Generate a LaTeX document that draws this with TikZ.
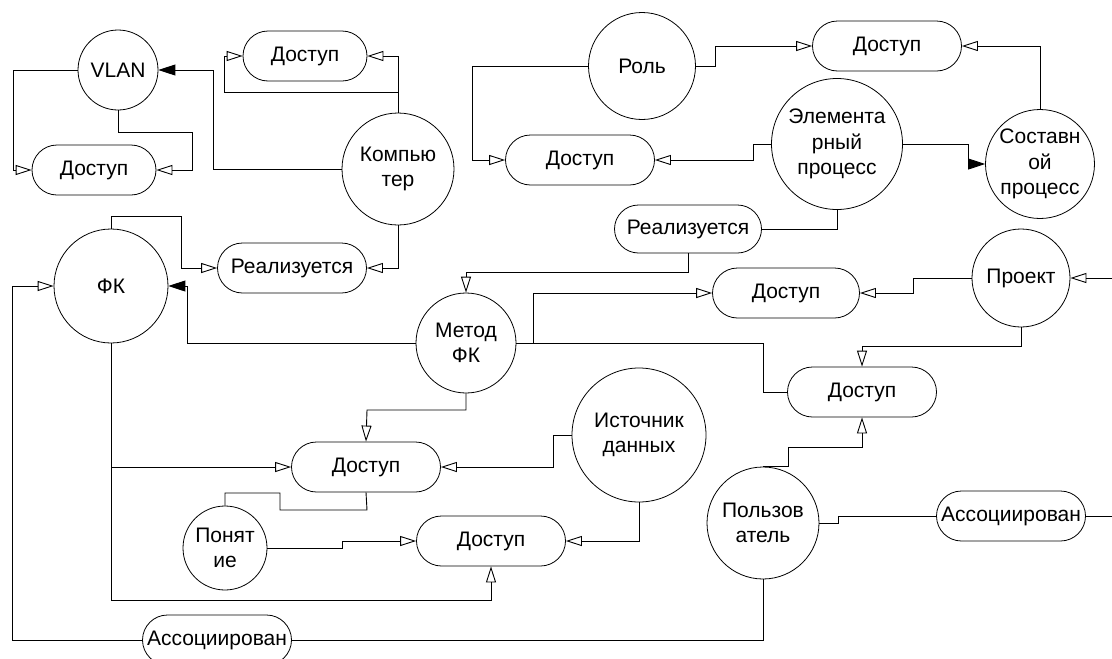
\documentclass[tikz,border=0pt]{standalone}
\usepackage{fontspec}
\setmainfont{Liberation Sans}
\usetikzlibrary{arrows.meta,shapes.misc}

\tikzset{
  ent/.style={draw, circle, inner sep=0pt, align=center, line width=0.8pt},
  acc/.style={draw, rounded rectangle, minimum width=149pt, minimum height=50pt, inner sep=0pt, line width=0.8pt},
  accs/.style={acc, minimum width=124pt},
  link/.style={line width=0.9pt},
  opn/.style={link, -{Triangle[open, length=16pt, width=10pt]}},
  fil/.style={link, -{Triangle[length=17pt, width=11pt]}},
}

\begin{document}
\begin{tikzpicture}[x=1pt, y=-1pt, every node/.style={font=\fontsize{21}{25.5}\selectfont}]
        \useasboundingbox (0,0) rectangle (1112,659);
        \fill[white] (0,0) rectangle (1112,659);
        \clip (0,0) rectangle (1112,659);

        % Entities
        \node[ent, minimum size=80pt] (vlan) at (118,70) {VLAN};
        \node[ent, minimum size=112pt] (comp) at (398,169) {Компью\\тер};
        \node[ent, minimum size=114pt] (fk) at (111,286) {ФК};
        \node[ent, minimum size=100pt] (method) at (466,343) {Метод\\ФК};
        \node[ent, minimum size=84pt] (concept) at (225,548) {Понят\\ие};
        \node[ent, minimum size=134pt] (source) at (639,435) {Источник\\данных};
        \node[ent, minimum size=107pt] (role) at (642,66) {Роль};
        \node[ent, minimum size=131pt] (elem) at (837,144) {Элемента\\рный\\процесс};
        \node[ent, minimum size=109pt] (compos) at (1040,164) {Составн\\ой\\процесс};
        \node[ent, minimum size=98pt] (proj) at (1021,278) {Проект};
        \node[ent, minimum size=112pt] (user) at (763,523) {Пользов\\атель};

        % Relations
        \node[accs] (accvl) at (94,170) {Доступ};
        \node[accs] (acccomp) at (305,56) {Доступ};
        \node[acc] (realfk) at (292,268) {Реализуется};
        \node[acc] (accmeth) at (366,467) {Доступ};
        \node[acc] (acccon) at (491,541) {Доступ};
        \node[acc] (assocL) at (217,640) {Ассоциирован};
        \node[acc] (accrole) at (580,160) {Доступ};
        \node[acc] (acccomp2) at (887,46) {Доступ};
        \node[acc, minimum width=147pt, minimum height=48pt] (realel) at (688,229) {Реализуется};
        \node[acc, minimum width=147pt] (accproj) at (786,293) {Доступ};
        \node[acc] (accuser) at (862,392) {Доступ};
        \node[acc] (assocR) at (1011,516) {Ассоциирован};
        \coordinate (edgeP) at (1112,278);
        \coordinate (edgeA) at (1112,516);

        % VLAN / Компьютер
        \draw[opn] (vlan.west) -| (13,170) -- (accvl.west);
        \draw[opn] (vlan.south) |- (192,132) |- (accvl.east);
        \draw[opn] (comp.north) |- (acccomp.east);
        \draw[opn] (comp.north) ++(0,-20) -| (224,56) -- (acccomp.west);
        \draw[fil] (comp.west) -| (213,70) -- (vlan.east);
        \draw[opn] (comp.south) |- (realfk.east);

        % ФК
        \draw[opn] (fk.north) |- (181,216) |- (realfk.west);
        \draw[fil] (method.west) -| (187,286) -- (fk.east);
        \draw[opn] (fk.south) |- (accmeth.west);
        \draw[opn] (fk.south) |- (491,600) -- (acccon.south);
        \draw[opn] (assocL.west) -| (12,286) -- (fk.west);

        % Метод ФК
        \draw[opn] (method.south) |- (367,410) -- (accmeth.north);
        \draw[opn] (method.east) -| (533,293) -- (accproj.west);
        \draw[link] (method.east) -| (763,392) -- (accuser.west);

        % Понятие / Источник данных
        \draw[link] (concept.north) |- (280,493) |- (367,510) -- (accmeth.south);
        \draw[opn] (concept.east) -| (342,541) -- (acccon.west);
        \draw[opn] (source.west) -| (553,467) -- (accmeth.east);
        \draw[opn] (source.south) |- (acccon.east);

        % Пользователь
        \draw[opn] (user.north) -| (788,447) -| (accuser.south);
        \draw[link] (user.east) -| (838,516) -- (assocR.west);
        \draw[link] (assocR.east) -- (edgeA);
        \draw[link] (user.south) |- (assocL.east);

        % Проект
        \draw[opn] (edgeP) -- (proj.east);
        \draw[opn] (proj.west) -| (913,293) -- (accproj.east);
        \draw[opn] (proj.south) |- (862,346) -- (accuser.north);

        % Роль / процессы
        \draw[opn] (role.west) -| (472,160) -- (accrole.west);
        \draw[opn] (role.east) -| (715,46) -- (acccomp2.west);
        \draw[opn] (elem.west) -| (753,160) -- (accrole.east);
        \draw[fil] (elem.east) -| (968,164) -- (compos.west);
        \draw[opn] (compos.north) |- (acccomp2.east);
        \draw[link] (elem.south) |- (realel.east);
        \draw[opn] (realel.south) |- (466,272) -- (method.north);
    \end{tikzpicture}
\end{document}
